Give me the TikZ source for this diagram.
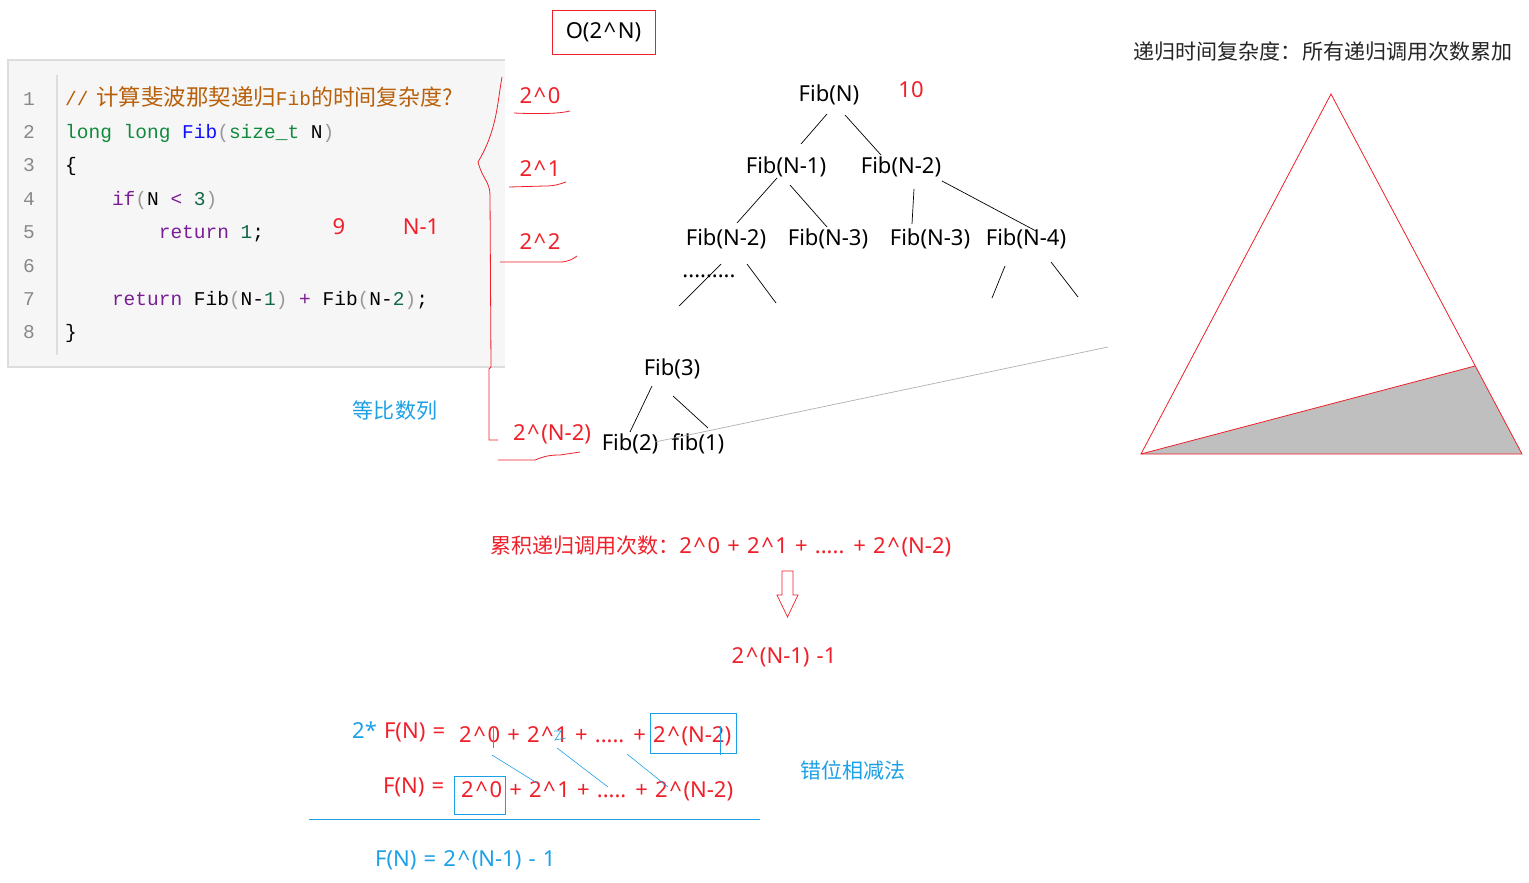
\documentclass[tikz,border=0pt]{standalone}
\usepackage{fontspec}
\setmainfont{Noto Sans}[WordSpace=1.25]
\newfontfamily\cjk[Scale=0.955]{Noto Sans CJK SC}
\newfontfamily\codefont{Liberation Mono}
\newcommand\crt{\kern1.6pt\textasciicircum\kern1.6pt}
\definecolor{annred}{HTML}{F0202A}
\definecolor{annblue}{HTML}{1CA0E6}
\definecolor{codebg}{HTML}{F6F6F6}
\definecolor{codeborder}{HTML}{DDDDDD}
\definecolor{cmt}{HTML}{B8600A}
\definecolor{kwgreen}{HTML}{108A3C}
\definecolor{kwpurple}{HTML}{7A1E96}
\definecolor{fnblue}{HTML}{1010FF}
\definecolor{numgreen}{HTML}{116644}
\definecolor{pgray}{HTML}{999999}
\definecolor{lnum}{HTML}{888888}
\definecolor{lgray}{HTML}{B0B0B0}
\tikzset{
  x=1pt,y=-1pt,
  lbl/.style={inner sep=0pt,font=\fontsize{22}{26}\selectfont},
  redlbl/.style={lbl,text=annred},
  bluelbl/.style={lbl,text=annblue},
  codeln/.style={inner sep=0pt,anchor=base west,font=\codefont\fontsize{19.5}{23}\selectfont},
  lnumst/.style={inner sep=0pt,anchor=base,text=lnum,font=\codefont\fontsize{19.5}{23}\selectfont},
  edge/.style={draw=black,line width=0.7pt},
  redpen/.style={draw=annred,line width=0.8pt},
  bluepen/.style={draw=annblue,line width=0.8pt},
}
\newcommand\pg[1]{\textcolor{pgray}{#1}}
\begin{document}
\begin{tikzpicture}
\useasboundingbox (0,0) rectangle (1529,883);
\fill[white] (0,0) rectangle (1529,883);

% code box
\fill[codebg] (8,60) rectangle (505,367);
\draw[codeborder,line width=1.5pt] (505,60) -- (8,60) -- (8,367) -- (505,367);
\draw[codeborder,line width=2pt] (57,75) -- (57,355);
\foreach \i in {1,...,8}{
  \node[lnumst] (ln\i) at (29,{98+33.4*(\i-1)+7}) {\i};
}
\node[codeln,text=cmt] (c1) at (65,105) {//\hspace{0.4em}{\cjk\fontsize{23.5}{26}\selectfont 计算斐波那契递归}Fib{\cjk\fontsize{23}{26}\selectfont 的时间复杂度?}};
\node[codeln] (c2) at (65,138.4) {\textcolor{kwgreen}{long long} \textcolor{fnblue}{Fib}\pg{(}\textcolor{kwgreen}{size\_t} N\pg{)}};
\node[codeln] (c3) at (65,171.8) {\{};
\node[codeln] (c4) at (65,205.2) {\phantom{xxxx}\textcolor{kwpurple}{if}\pg{(}N \textcolor{kwpurple}{<} \textcolor{numgreen}{3}\pg{)}};
\node[codeln] (c5) at (65,238.6) {\phantom{xxxxxxxx}\textcolor{kwpurple}{return} \textcolor{numgreen}{1};};
\node[codeln] (c7) at (65,305.4) {\phantom{xxxx}\textcolor{kwpurple}{return} Fib\pg{(}N-\textcolor{numgreen}{1}\pg{)} \textcolor{kwpurple}{+} Fib\pg{(}N-\textcolor{numgreen}{2}\pg{)};};
\node[codeln] (c8) at (65,338.8) {\}};

\node[redlbl] (nine) at (339,227) {9};
\node[redlbl] (nm1) at (421,227) {N-1};
\node[bluelbl] (dbsl) at (395,411) {\cjk 等比数列};

% red brace and level labels
\draw[redpen] (502,77) .. controls (497,105) and (497,130) .. (478,162)
  .. controls (482,178) and (490,182) .. (490,195) -- (491,367) -- (489,369) -- (489,440) -- (498,440);
\node[redlbl] (l0) at (540,96) {2\crt0};
\node[redlbl] (l1) at (540,169) {2\crt1};
\node[redlbl] (l2) at (540,242) {2\crt2};
\node[redlbl] (ln2) at (552,434) {2\crt(N-2)};
\draw[redpen] (514,113) .. controls (535,114) and (558,114) .. (570,111);
\draw[redpen] (509,187) -- (545,186) .. controls (555,186) and (560,184) .. (566,182);
\draw[redpen] (500,262) -- (560,262) .. controls (568,262) and (573,259) .. (577,256);
\draw[redpen] (498,460) -- (535,460) .. controls (545,456) and (550,455) .. (560,455) -- (580,452);

% O(2^N)
\node[lbl,draw=annred,line width=0.8pt,minimum width=103pt,minimum height=44pt] (onode) at (603.5,32) {O(2\crt N)};

% tree
\node[lbl] (fN) at (829,95) {Fib(N)};
\node[redlbl] (ten) at (911,90) {10};
\node[lbl] (fN1) at (786,167) {Fib(N-1)};
\node[lbl] (fN2) at (901,167) {Fib(N-2)};
\node[lbl] (gA) at (726,239) {Fib(N-2)};
\node[lbl] (gB) at (828,239) {Fib(N-3)};
\node[lbl] (gC) at (930,239) {Fib(N-3)};
\node[lbl] (gD) at (1026,239) {Fib(N-4)};
\node[lbl] (dots) at (709,276) {.........};
\node[lbl] (f3) at (672,369) {Fib(3)};
\node[lbl] (f2) at (630,444) {Fib(2)};
\node[lbl] (f1) at (698,444) {fib(1)};

\draw[edge] (827,114) -- (801,144);
\draw[edge] (845,115) -- (881,155);
\draw[edge] (777,178) -- (737,223);
\draw[edge] (790,185) -- (827,227);
\draw[edge] (914,189) -- (912,224);
\draw[edge] (942,181) -- (1036,231);
\draw[edge] (721,264) -- (679,306);
\draw[edge] (747,264) -- (776,303);
\draw[edge] (1005,266) -- (992,298);
\draw[edge] (1051,262) -- (1078,297);
\draw[edge] (652,386) -- (630,432);
\draw[edge] (673,396) -- (708,428);
\draw[lgray,line width=0.7pt] (655,442) -- (1108,347);

% triangle
\coordinate (tA) at (1331,94);
\coordinate (tB) at (1141,454);
\coordinate (tC) at (1522,454);
\coordinate (tD) at (1475,366);
\fill[gray!50] (tB) -- (tD) -- (tC) -- cycle;
\draw[redpen] (tA) -- (tB) -- (tC) -- cycle;
\draw[redpen] (tB) -- (tD);
\node[lbl,text=black!85,font=\cjk\fontsize{22}{26}\selectfont] (title) at (1323,52) {递归时间复杂度：所有递归调用次数累加};

% middle
\node[redlbl,anchor=west] (sum) at (490,546) {{\cjk 累积递归调用次数：}2\crt0 + 2\crt1 + ..... + 2\crt(N-2)};
\draw[redpen,line width=0.7pt,fill=white] (782,571) -- (793,571) -- (793,595) -- (798,595) -- (787.5,617) -- (777,595) -- (782,595) -- cycle;
\node[redlbl] (res) at (784,657) {2\crt(N-1) -1};

% bottom
\node[lbl,anchor=west] (r1l) at (352,732) {\textcolor{annblue}{2*} \textcolor{annred}{F(N) =}};
\node[redlbl,anchor=west] (r1) at (459,736) {2\crt0 + 2\crt1 + ..... + 2\crt(N-2)};
\node[redlbl,anchor=west] (r2l) at (383,787) {F(N) =};
\node[redlbl,anchor=west] (r2) at (461,791) {2\crt0 + 2\crt1 + ..... + 2\crt(N-2)};
\node[bluelbl,anchor=west] (r3) at (375,860) {F(N) = 2\crt(N-1) - 1};
\node[bluelbl] (cwxj) at (853,770) {\cjk 错位相减法};

\draw[bluepen] (650,713) rectangle (736,753);
\draw[bluepen] (454,776) rectangle (505,814);
\draw[bluepen] (309,819) -- (760,819);
\draw[bluepen,line width=0.6pt] (492,755) -- (537,783);
\draw[bluepen,line width=0.6pt] (557,748) -- (608,787);
\draw[bluepen,line width=0.6pt] (627,754) -- (668,787);
\draw[bluepen,line width=0.6pt] (493,726) -- (493,748);
\draw[bluepen,line width=0.6pt] (720,726) -- (720,755);
\draw[bluepen,line width=0.6pt] (554,731) -- (561,731) -- (555,740) -- (566,738);
\end{tikzpicture}
\end{document}
